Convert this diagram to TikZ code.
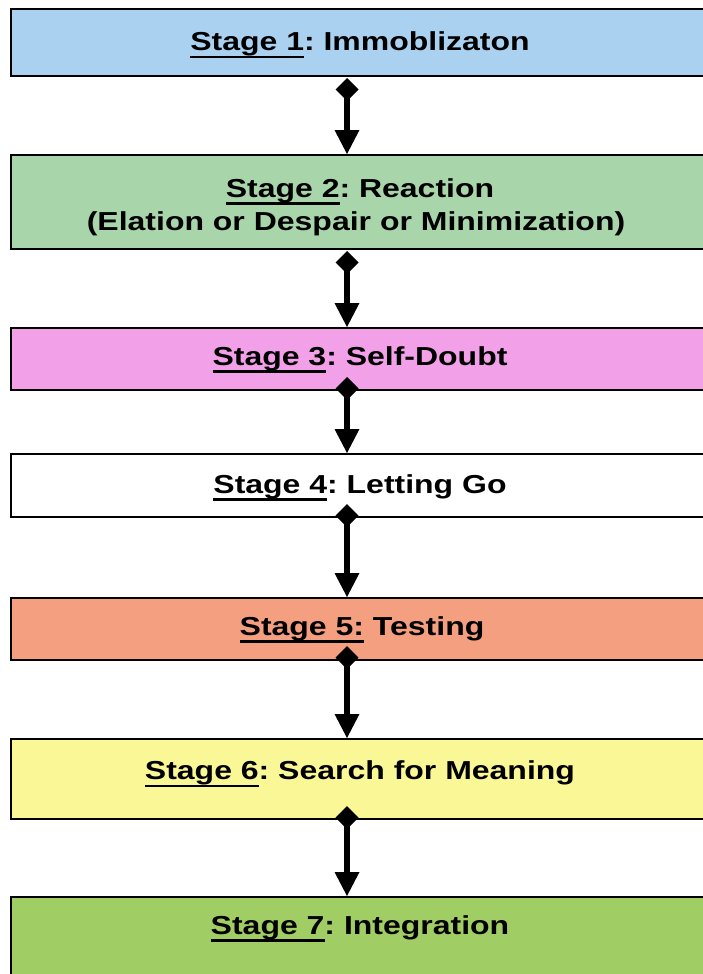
\documentclass[tikz,border=0pt]{standalone}
\usepackage{fontspec}
\setmainfont{Liberation Sans}
\usepackage{graphicx}
\usetikzlibrary{arrows.meta}
\frenchspacing
\definecolor{cone}{HTML}{AAD2F0}
\definecolor{ctwo}{HTML}{A8D6AA}
\definecolor{cthree}{HTML}{F2A0E8}
\definecolor{cfour}{HTML}{FFFFFF}
\definecolor{cfive}{HTML}{F4A080}
\definecolor{csix}{HTML}{FAF896}
\definecolor{cseven}{HTML}{A0CD64}
\newcommand\stg[1]{\setbox0\hbox{#1}\rlap{\rule[-7.5pt]{\wd0}{2.5pt}}\box0\relax}
\newcommand\wtxt[1]{\scalebox{1.23}[1]{\fontsize{26}{32}\selectfont\bfseries #1}}
\tikzset{
  stagebox/.style={draw=black, line width=2pt, rectangle, inner sep=0pt, anchor=north west, minimum width=740pt},
  stagetext/.style={anchor=base, inner sep=0pt},
  link/.style={line width=6.5pt, {Diamond[width=23pt,length=23pt,line width=0pt]}-{Triangle[width=25pt,length=24pt,line width=0pt]}},
}
\begin{document}
\begin{tikzpicture}[x=1pt,y=-1pt]
\clip (0,0) rectangle (703,974);
\fill[white] (0,0) rectangle (703,974);
% boxes
\node[stagebox, fill=cone,   minimum height=67pt]  (b1) at (10,8)   {};
\node[stagebox, fill=ctwo,   minimum height=94pt]  (b2) at (10,154) {};
\node[stagebox, fill=cthree, minimum height=62pt]  (b3) at (10,327) {};
\node[stagebox, fill=cfour,  minimum height=63pt]  (b4) at (10,453) {};
\node[stagebox, fill=cfive,  minimum height=62pt]  (b5) at (10,597) {};
\node[stagebox, fill=csix,   minimum height=80pt]  (b6) at (10,738) {};
\node[stagebox, fill=cseven, minimum height=100pt] (b7) at (10,896) {};
% texts
\node[stagetext] (t1)  at (360,51)    {\wtxt{\stg{Stage 1}: Immoblizaton}};
\node[stagetext] (t2a) at (360,197)   {\wtxt{\stg{Stage 2}: Reaction}};
\node[stagetext] (t2b) at (356,230)   {\wtxt{(Elation or Despair or Minimization)}};
\node[stagetext] (t3)  at (360,365)   {\wtxt{\stg{Stage 3}: Self-Doubt}};
\node[stagetext] (t4)  at (360,493)   {\wtxt{\stg{Stage 4}: Letting Go}};
\node[stagetext] (t5)  at (362,635)   {\wtxt{\stg{Stage 5:} Testing}};
\node[stagetext] (t6)  at (360,779.5) {\wtxt{\stg{Stage 6}: Search for Meaning}};
\node[stagetext] (t7)  at (360,934)   {\wtxt{\stg{Stage 7}: Integration}};
% connector start points
\coordinate (s1) at (347,78);
\coordinate (s2) at (347,251);
\coordinate (s3) at (347,377);
\coordinate (s4) at (347,504);
\coordinate (s5) at (347,646);
\coordinate (s6) at (347,806);
\draw[link] (s1) -- (b2.north -| s1);
\draw[link] (s2) -- (b3.north -| s2);
\draw[link] (s3) -- (b4.north -| s3);
\draw[link] (s4) -- (b5.north -| s4);
\draw[link] (s5) -- (b6.north -| s5);
\draw[link] (s6) -- (b7.north -| s6);
\end{tikzpicture}
\end{document}
